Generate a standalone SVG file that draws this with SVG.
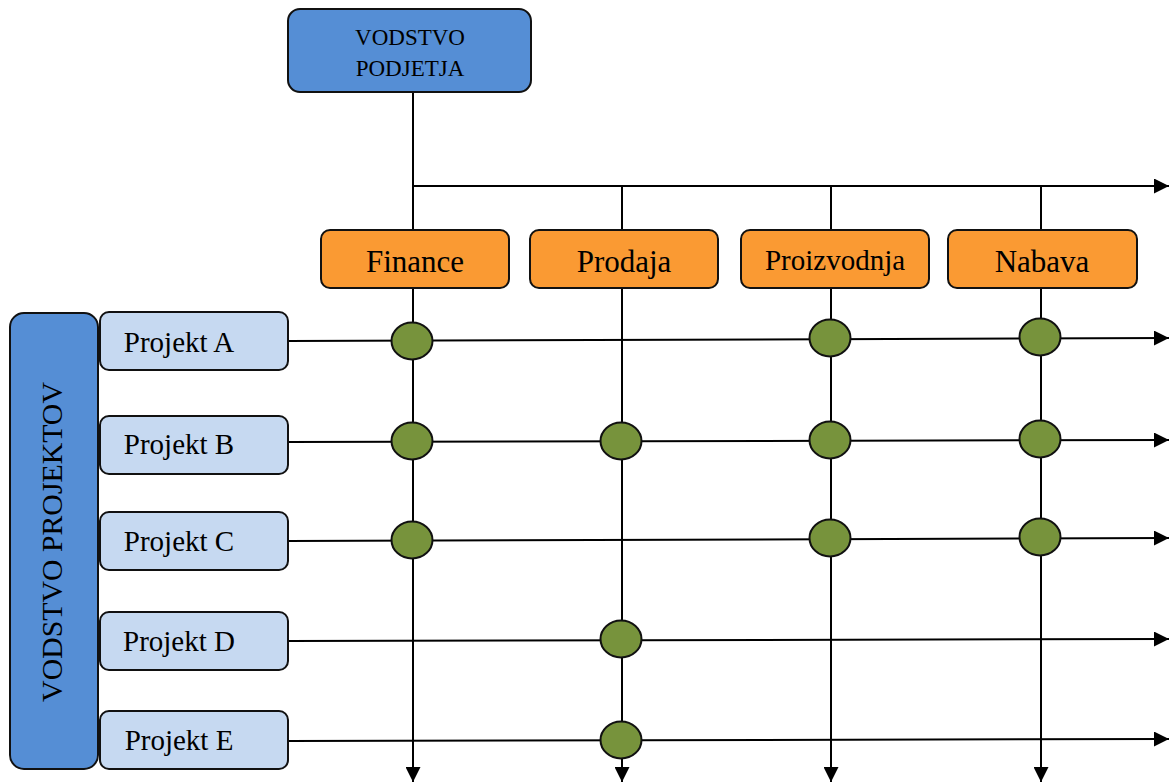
<svg xmlns="http://www.w3.org/2000/svg" width="1169" height="783" viewBox="0 0 1169 783">
  <style>
    .lbl { font-family: "Liberation Serif", "Times New Roman", serif; fill: #000; text-anchor: middle; }
    .exec { fill: #558ED5; stroke: #111; stroke-width: 2; }
    .dept { fill: #FA9A33; stroke: #111; stroke-width: 2; }
    .proj { fill: #C6D9F1; stroke: #111; stroke-width: 2; }
    .dot { fill: #77933C; stroke: #111; stroke-width: 2; }
    .ln { stroke: #000; stroke-width: 2; fill: none; }
  </style>
  <defs>
    <marker id="arrow" viewBox="0 0 10 10" refX="10" refY="5" markerWidth="7.5" markerHeight="7.5" markerUnits="strokeWidth" orient="auto">
      <path d="M0,0 L10,5 L0,10 Z" fill="#000"/>
    </marker>
  </defs>

  <!-- connectors -->
  <g id="connectors">
    <line class="ln" x1="413" y1="92" x2="413" y2="782" marker-end="url(#arrow)"/>
    <line class="ln" x1="413" y1="186" x2="1169" y2="186" marker-end="url(#arrow)"/>
    <line class="ln" x1="622" y1="186" x2="622" y2="782" marker-end="url(#arrow)"/>
    <line class="ln" x1="831" y1="186" x2="831" y2="782" marker-end="url(#arrow)"/>
    <line class="ln" x1="1041" y1="186" x2="1041" y2="782" marker-end="url(#arrow)"/>
    <line class="ln" x1="288" y1="341" x2="1169" y2="338" marker-end="url(#arrow)"/>
    <line class="ln" x1="288" y1="442" x2="1169" y2="440" marker-end="url(#arrow)"/>
    <line class="ln" x1="288" y1="541" x2="1169" y2="538" marker-end="url(#arrow)"/>
    <line class="ln" x1="288" y1="641" x2="1169" y2="639" marker-end="url(#arrow)"/>
    <line class="ln" x1="288" y1="741" x2="1169" y2="739" marker-end="url(#arrow)"/>
  </g>

  <!-- company management -->
  <g id="vodstvo-podjetja">
    <rect class="exec" x="288" y="9" width="243" height="83" rx="12"/>
    <text class="lbl" x="410" y="45" font-size="23">VODSTVO</text>
    <text class="lbl" x="410" y="76" font-size="23">PODJETJA</text>
  </g>

  <!-- departments -->
  <g id="finance">
    <rect class="dept" x="321" y="230" width="188" height="58" rx="9"/>
    <text class="lbl" x="415" y="272" font-size="31">Finance</text>
  </g>
  <g id="prodaja">
    <rect class="dept" x="530" y="230" width="188" height="58" rx="9"/>
    <text class="lbl" x="624" y="272" font-size="31">Prodaja</text>
  </g>
  <g id="proizvodnja">
    <rect class="dept" x="741" y="230" width="188" height="58" rx="9"/>
    <text class="lbl" x="835" y="270" font-size="29">Proizvodnja</text>
  </g>
  <g id="nabava">
    <rect class="dept" x="948" y="230" width="189" height="58" rx="9"/>
    <text class="lbl" x="1042" y="272" font-size="31">Nabava</text>
  </g>

  <!-- project management -->
  <g id="vodstvo-projektov">
    <rect class="exec" x="10" y="313" width="88" height="456" rx="14"/>
    <text class="lbl" transform="translate(62,542) rotate(-90)" x="0" y="0" font-size="29.8">VODSTVO PROJEKTOV</text>
  </g>

  <!-- projects -->
  <g id="projekt-a">
    <rect class="proj" x="100" y="312" width="188" height="58" rx="9"/>
    <text class="lbl" x="179" y="352" font-size="29">Projekt A</text>
  </g>
  <g id="projekt-b">
    <rect class="proj" x="100" y="416" width="188" height="58" rx="9"/>
    <text class="lbl" x="179" y="454" font-size="29">Projekt B</text>
  </g>
  <g id="projekt-c">
    <rect class="proj" x="100" y="512" width="188" height="58" rx="9"/>
    <text class="lbl" x="179" y="551" font-size="29">Projekt C</text>
  </g>
  <g id="projekt-d">
    <rect class="proj" x="100" y="612" width="188" height="58" rx="9"/>
    <text class="lbl" x="179" y="651" font-size="29">Projekt D</text>
  </g>
  <g id="projekt-e">
    <rect class="proj" x="100" y="711" width="188" height="58" rx="9"/>
    <text class="lbl" x="179" y="750" font-size="29">Projekt E</text>
  </g>

  <!-- involvement markers -->
  <g id="involvement">
    <ellipse class="dot" cx="412" cy="341" rx="20.5" ry="18.5"/>
    <ellipse class="dot" cx="830" cy="338" rx="20.5" ry="18.5"/>
    <ellipse class="dot" cx="1040" cy="337" rx="20.5" ry="18.5"/>

    <ellipse class="dot" cx="412" cy="441" rx="20.5" ry="18.5"/>
    <ellipse class="dot" cx="621" cy="441" rx="20.5" ry="18.5"/>
    <ellipse class="dot" cx="830" cy="440" rx="20.5" ry="18.5"/>
    <ellipse class="dot" cx="1040" cy="439" rx="20.5" ry="18.5"/>

    <ellipse class="dot" cx="412" cy="540" rx="20.5" ry="18.5"/>
    <ellipse class="dot" cx="830" cy="538" rx="20.5" ry="18.5"/>
    <ellipse class="dot" cx="1040" cy="537" rx="20.5" ry="18.5"/>

    <ellipse class="dot" cx="621" cy="639" rx="20.5" ry="18.5"/>
    <ellipse class="dot" cx="621" cy="740" rx="20.5" ry="18.5"/>
  </g>
</svg>
